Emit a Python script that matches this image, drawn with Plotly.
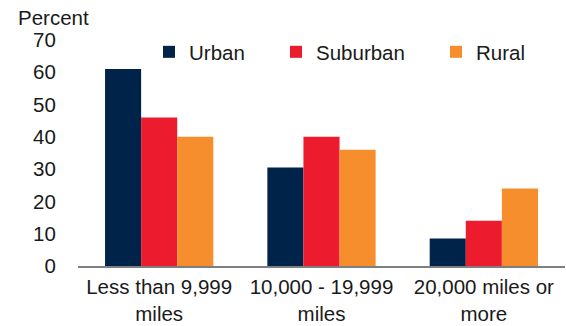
import plotly.graph_objects as go

categories = ["Less than 9,999<br>miles", "10,000 - 19,999<br>miles", "20,000 miles or<br>more"]
urban = [61, 30.5, 8.5]
suburban = [46, 40, 14]
rural = [40, 36, 24]
y_ticks = [0, 10, 20, 30, 40, 50, 60, 70]

FONT = "Liberation Sans, Arial, sans-serif"
TEXT = "#1a1a1a"
SIZE = 20.5

fig = go.Figure()
fig.add_trace(go.Bar(name="Urban", x=categories, y=urban, marker_color="#00234A",
                     marker_line_width=0, legend="legend"))
fig.add_trace(go.Bar(name="Suburban", x=categories, y=suburban, marker_color="#EC1C2E",
                     marker_line_width=0, legend="legend2"))
fig.add_trace(go.Bar(name="Rural", x=categories, y=rural, marker_color="#F68E2D",
                     marker_line_width=0, legend="legend3"))

legend_common = dict(orientation="h", yanchor="middle", xanchor="left",
                     font=dict(family=FONT, size=SIZE, color=TEXT),
                     bgcolor="rgba(0,0,0,0)", itemwidth=30, xref="container", yref="container")

fig.update_layout(
    width=566, height=326,
    margin=dict(l=78, r=1, t=40, b=60, autoexpand=False),
    paper_bgcolor="white", plot_bgcolor="white",
    barmode="group", bargap=0.333, bargroupgap=0,
    showlegend=True,
    font=dict(family=FONT, size=SIZE, color=TEXT),
    legend=dict(legend_common, x=149 / 566, y=1 - 52 / 326),
    legend2=dict(legend_common, x=276 / 566, y=1 - 52 / 326),
    legend3=dict(legend_common, x=436 / 566, y=1 - 52 / 326),
    xaxis=dict(showline=True, linecolor="#7f7f7f", linewidth=1.5, ticks="outside",
               ticklen=2, tickcolor="rgba(0,0,0,0)", showgrid=False,
               tickfont=dict(size=SIZE)),
    yaxis=dict(range=[0, 70], tickvals=y_ticks, showgrid=False, zeroline=False,
               showline=False, ticks="outside", ticklen=17, tickcolor="rgba(0,0,0,0)",
               tickfont=dict(size=SIZE)),
    annotations=[dict(text="Percent", xref="paper", yref="paper", x=-78 / 487 + 16 / 487,
                      y=1, yshift=23, xanchor="left", yanchor="middle", showarrow=False,
                      font=dict(size=SIZE))],
)

fig.write_html("out.html")
